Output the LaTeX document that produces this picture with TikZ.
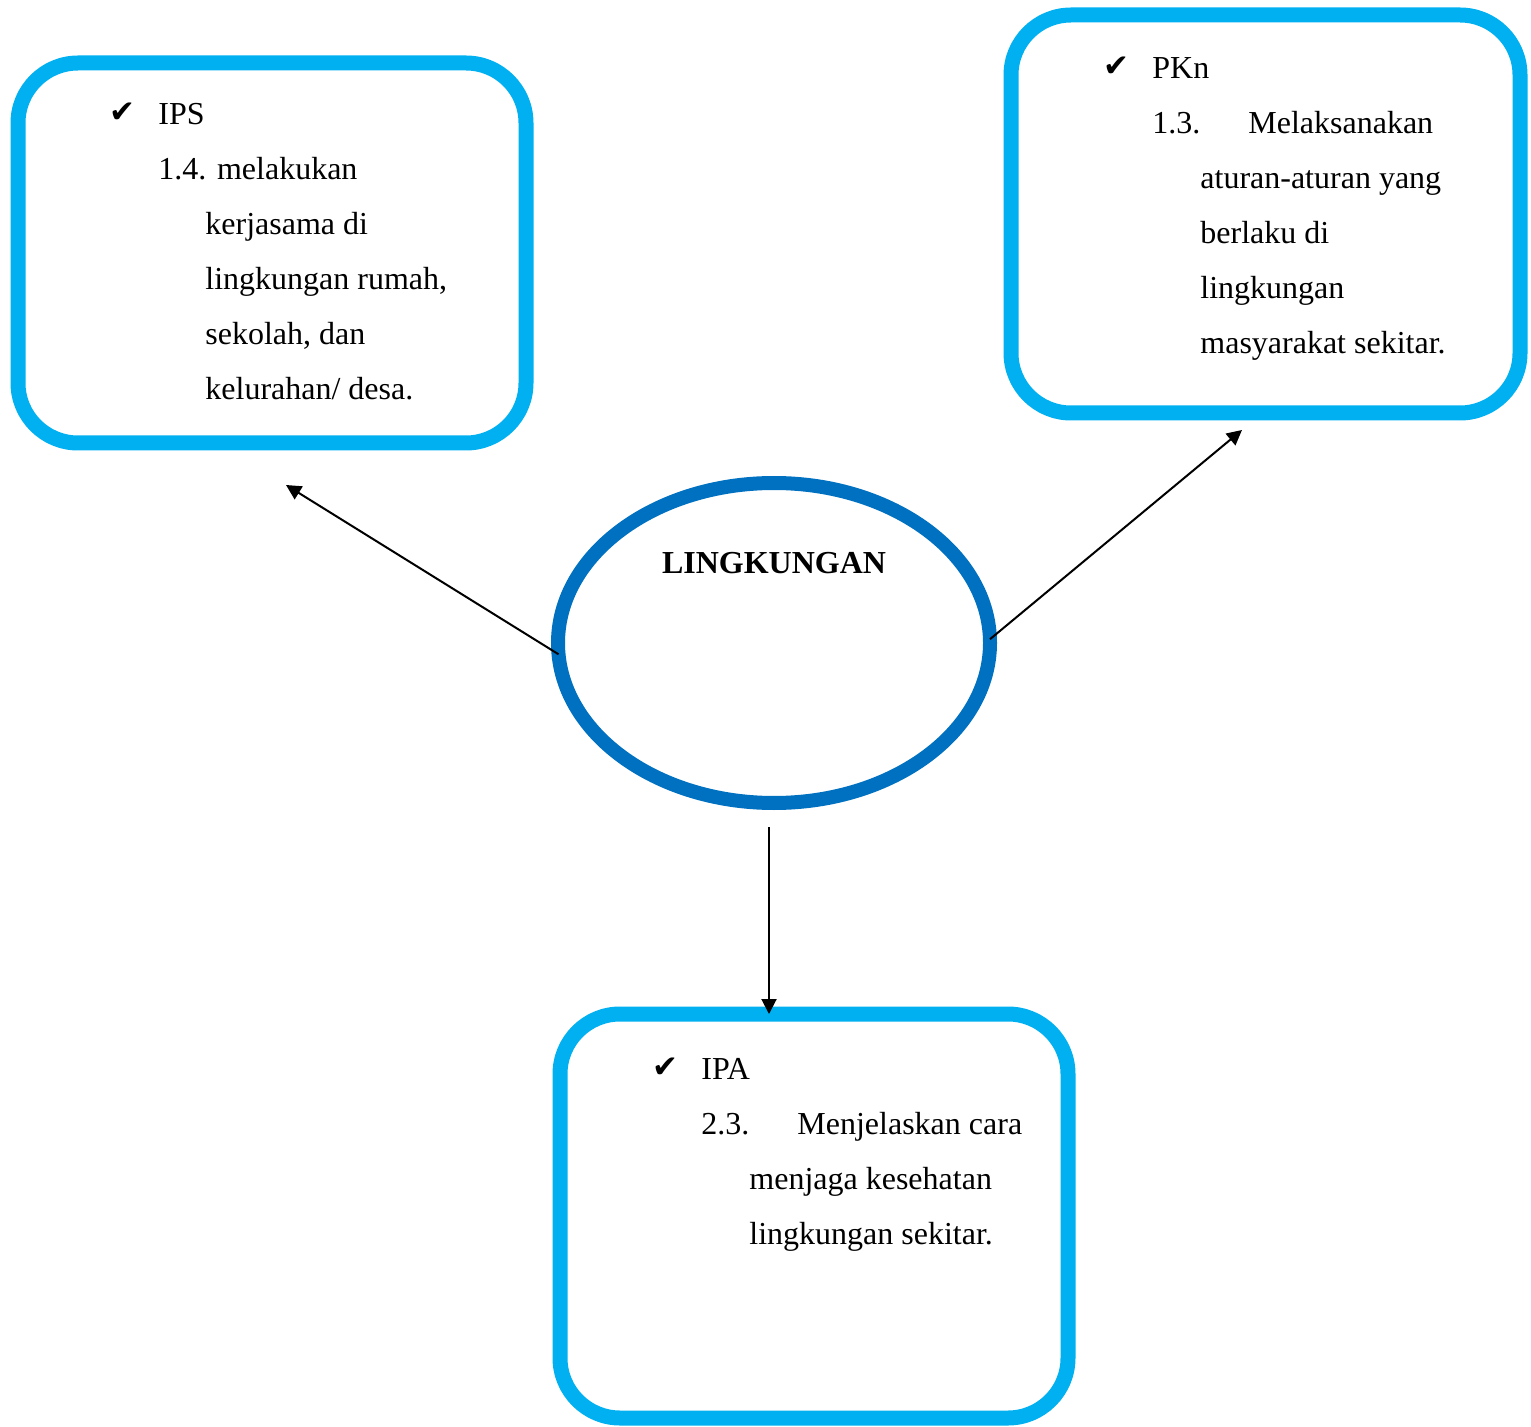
\documentclass[tikz,border=0pt]{standalone}
\usepackage{amsmath,amssymb}
\usepackage{fontspec}
\setmainfont{Liberation Serif}
\newfontfamily\simbol{DejaVu Sans}
\usepackage{xcolor}
\usepackage{tikz}
\usetikzlibrary{arrows.meta,positioning,shapes.geometric}
\definecolor{cyanx}{HTML}{00B0F0}
\definecolor{bluex}{HTML}{0070C0}
\tikzset{
  ar/.style={-{Triangle[length=7.5pt,width=7.5pt]},line width=1pt,black},
  kotak/.style={draw=cyanx,line width=7.5pt,rounded corners=30pt,fill=white,inner sep=0pt,outer sep=0pt},
  teks/.style={anchor=base west,inner sep=0pt,font=\fontsize{16}{19}\selectfont},
  centang/.style={anchor=base west,inner sep=0pt,font=\simbol\fontsize{15.5}{18}\selectfont}
}
\begin{document}
\begin{tikzpicture}[x=0.5pt,y=-0.5pt]
\useasboundingbox (0,0) rectangle (1531,1427);
\node[kotak,minimum width=254pt,minimum height=190pt] (ips) at (272,253) {};
\node[kotak,minimum width=254.5pt,minimum height=199pt] (pkn) at (1265.5,214) {};
\node[kotak,minimum width=254pt,minimum height=202pt] (ipa) at (814,1216) {};
\node[draw=bluex,line width=7pt,ellipse,minimum width=216pt,minimum height=160pt,inner sep=0pt,outer sep=0pt] (lingk) at (774,643) {};
\node[anchor=base,inner sep=0pt,font=\fontsize{16}{19}\selectfont\bfseries] (judul) at (774,574) {LINGKUNGAN};
% IPS
\node[centang] (ipsc) at (109,123) {✔};
\node[teks] (ips0) at (158,125) {IPS};
\node[teks] (ips1) at (158,180) {1.4. melakukan};
\node[teks] (ips2) at (205,235) {kerjasama di};
\node[teks] (ips3) at (205,290) {lingkungan rumah,};
\node[teks] (ips4) at (205,345) {sekolah, dan};
\node[teks] (ips5) at (205,400) {kelurahan/ desa.};
% PKn
\node[centang] (pknc) at (1103,77) {✔};
\node[teks] (pkn0) at (1152,79) {PKn};
\node[teks] (pkn1) at (1152,134) {1.3.};
\node[teks] (pkn1b) at (1248,134) {Melaksanakan};
\node[teks] (pkn2) at (1200,189) {aturan-aturan yang};
\node[teks] (pkn3) at (1200,244) {berlaku di};
\node[teks] (pkn4) at (1200,299) {lingkungan};
\node[teks] (pkn5) at (1200,354) {masyarakat sekitar.};
% IPA
\node[centang] (ipac) at (652,1077) {✔};
\node[teks] (ipa0) at (701,1079) {IPA};
\node[teks] (ipa1) at (701,1134) {2.3.};
\node[teks] (ipa1b) at (797,1134) {Menjelaskan cara};
\node[teks] (ipa2) at (749,1189) {menjaga kesehatan};
\node[teks] (ipa3) at (749,1244) {lingkungan sekitar.};
% panah
\coordinate (ujungkiri) at (286,485);
\coordinate (ujungkanan) at (1242,430);
\coordinate (pangkalbawah) at (769,827);
\coordinate (ujungbawah) at (769,1014);
\draw[ar] (lingk.183) -- (ujungkiri);
\draw[ar] (lingk.1) -- (ujungkanan);
\draw[ar] (pangkalbawah) -- (ujungbawah);
\end{tikzpicture}
\end{document}
